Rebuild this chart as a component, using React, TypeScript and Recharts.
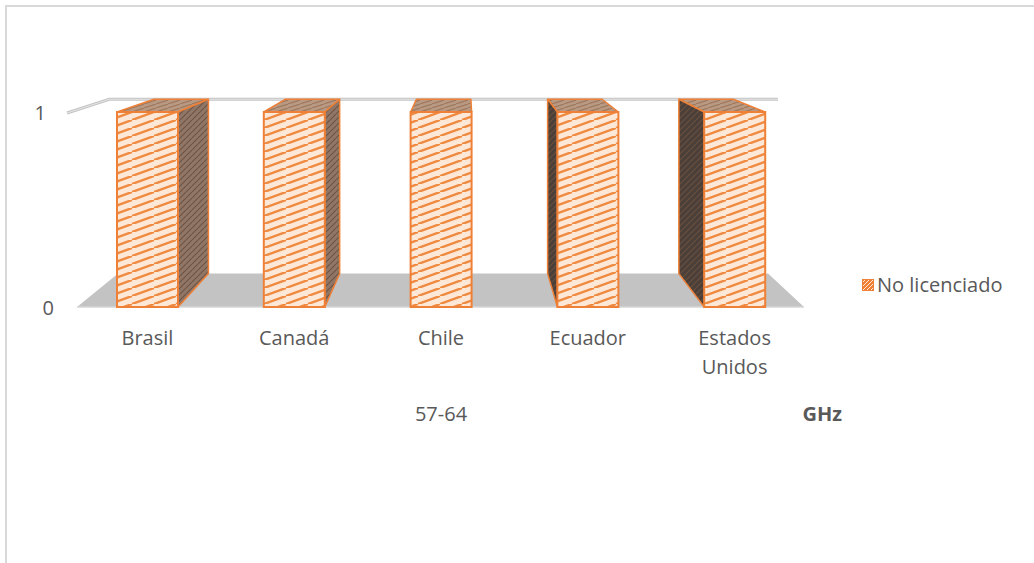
import React from "react";
import { Bar, BarChart, Label, Legend, ReferenceArea, XAxis, YAxis } from "recharts";

// values
const countries = ["Brasil", "Canadá", "Chile", "Ecuador", "Estados Unidos"];
const noLicenciado = [1, 1, 1, 1, 1];
const yTicks = [0, 1];
const seriesName = "No licenciado";
const xTitle = "57-64";
const depthTitle = "GHz";

const data = countries.map((country, i) => ({ country, value: noLicenciado[i] }));

const TEXT = "#595959";
const ORANGE = "#ee8037";
const FONT = 20;

// fake perspective used for the 3D look (vanishing point + depth ratio)
const VX = 465;
const VY = -8;
const DEPTH = 0.894;

type Pt = [number, number];
const proj = (px: number, py: number): Pt => [VX + DEPTH * (px - VX), VY + DEPTH * (py - VY)];
const pts = (arr: Pt[]) => arr.map((p) => p.join(",")).join(" ");

function Bar3D(props: any) {
  const { x, y, width: w, height: h } = props;
  if (w == null || h == null) return null;
  const A: Pt = [x, y];
  const B: Pt = [x + w, y];
  const C: Pt = [x + w, y + h];
  const D: Pt = [x, y + h];
  const A2 = proj(...A);
  const B2 = proj(...B);
  const C2 = proj(...C);
  const D2 = proj(...D);
  return (
    <g>
      <polygon points={pts([A, B, B2, A2])} fill="url(#hatchTop)" stroke={ORANGE} strokeWidth={1.5} strokeLinejoin="round" />
      {x + w < VX && (
        <polygon points={pts([B, C, C2, B2])} fill="url(#hatchRight)" stroke={ORANGE} strokeWidth={1.5} strokeLinejoin="round" />
      )}
      {x > VX && (
        <polygon points={pts([A, D, D2, A2])} fill="url(#hatchLeft)" stroke={ORANGE} strokeWidth={1.5} strokeLinejoin="round" />
      )}
      <rect x={x} y={y} width={w} height={h} fill="url(#hatchFront)" stroke={ORANGE} strokeWidth={2} />
    </g>
  );
}

function Room(props: any) {
  const { x, y, width: w, height: h } = props;
  if (w == null || h == null) return null;
  const FL: Pt = [x + 3, y + h];
  const FR: Pt = [x + w - 4, y + h];
  const BL = proj(...FL);
  const BR = proj(...FR);
  const wallFront: Pt = [x - 7, y + 1];
  const wallBackL = proj(x - 7, y);
  const wallBackR = proj(x + w + 7, y);
  return (
    <g>
      <polygon points={pts([FL, FR, BR, BL])} fill="#c3c3c3" />
      <line x1={FL[0]} y1={FL[1]} x2={FR[0]} y2={FR[1]} stroke="#d6d6d6" strokeWidth={1.5} />
      <polyline points={pts([wallFront, wallBackL, wallBackR])} fill="none" stroke="#c4c4c4" strokeWidth={3} />
      <polyline points={pts([wallFront, wallBackL, wallBackR])} fill="none" stroke="#e6e6e6" strokeWidth={1} />
    </g>
  );
}

function YTick(props: any) {
  const { x, y, payload } = props;
  // the wall leans a bit, so the 0 sits further right than the 1
  const shift = (1 - payload.value) * 8;
  return (
    <text x={x - 20 + shift} y={y} dy={8} textAnchor="end" fill={TEXT} fontSize={FONT}>
      {payload.value}
    </text>
  );
}

function XTick(props: any) {
  const { x, y, payload } = props;
  const lines: string[] = payload.value.length > 10 ? payload.value.split(" ") : [payload.value];
  return (
    <text x={x} y={y} textAnchor="middle" fill={TEXT} fontSize={FONT}>
      {lines.map((l, i) => (
        <tspan key={i} x={x} dy={i === 0 ? 30 : 29}>
          {l}
        </tspan>
      ))}
    </text>
  );
}

function LegendBox() {
  return (
    <div style={{ display: "flex", alignItems: "center", fontSize: FONT, color: TEXT, whiteSpace: "nowrap" }}>
      <svg width={12} height={12} style={{ marginRight: 3 }}>
        <rect x={0.5} y={0.5} width={11} height={11} fill="url(#hatchLegend)" stroke={ORANGE} strokeWidth={1} />
      </svg>
      <span>{seriesName}</span>
    </div>
  );
}

export default function App() {
  return (
    <div
      style={{
        position: "absolute",
        left: 0,
        top: 0,
        width: 1034,
        height: 563,
        overflow: "hidden",
        background: "#fff",
        fontFamily: "'Open Sans', sans-serif",
      }}
    >
      <div
        style={{
          position: "absolute",
          left: 5,
          top: 5,
          width: 1100,
          height: 600,
          borderLeft: "2px solid #d9d9d9",
          borderTop: "2px solid #d9d9d9",
        }}
      />
      <BarChart
        width={1034}
        height={563}
        data={data}
        margin={{ top: 112, right: 226, bottom: 131, left: 0 }}
        barSize={61}
      >
        <defs>
          <pattern id="hatchFront" width="22" height="8" patternUnits="userSpaceOnUse">
            <rect width="22" height="8" fill="#fde8d8" />
            <path d="M-22 8 L0 0 M0 8 L22 0 M22 8 L44 0" stroke="#ef8a40" strokeWidth="2.4" />
          </pattern>
          <pattern id="hatchTop" width="12" height="4" patternUnits="userSpaceOnUse">
            <rect width="12" height="4" fill="#b89a84" />
            <path d="M-12 4 L0 0 M0 4 L12 0 M12 4 L24 0" stroke="#a0785c" strokeWidth="1.2" />
          </pattern>
          <pattern id="hatchRight" width="6" height="6" patternUnits="userSpaceOnUse">
            <rect width="6" height="6" fill="#8f7666" />
            <path d="M-6 6 L0 0 M0 6 L6 0 M6 6 L12 0" stroke="#6f5444" strokeWidth="1.2" />
          </pattern>
          <pattern id="hatchLeft" width="6" height="6" patternUnits="userSpaceOnUse">
            <rect width="6" height="6" fill="#4a3f39" />
            <path d="M-6 6 L0 0 M0 6 L6 0 M6 6 L12 0" stroke="#6a4e3c" strokeWidth="1.2" />
          </pattern>
          <pattern id="hatchLegend" width="4" height="4" patternUnits="userSpaceOnUse">
            <rect width="4" height="4" fill={ORANGE} />
            <path d="M-1 1 L1 -1 M0 4 L4 0 M3 5 L5 3" stroke="#fde8d8" strokeWidth="1" />
          </pattern>
        </defs>
        <ReferenceArea y1={0} y2={1} shape={Room} fill="none" stroke="none" />
        <XAxis
          dataKey="country"
          height={125}
          axisLine={false}
          tickLine={false}
          interval={0}
          tick={XTick}
        >
          <Label value={xTitle} position="insideBottom" offset={11} fill={TEXT} fontSize={FONT} />
          <Label
            value={depthTitle}
            position="insideBottomRight"
            offset={11}
            dx={45}
            fill={TEXT}
            fontSize={FONT}
            fontWeight="bold"
          />
        </XAxis>
        <YAxis
          width={74}
          domain={[0, 1]}
          ticks={yTicks}
          axisLine={false}
          tickLine={false}
          tick={YTick}
        />
        <Legend
          layout="vertical"
          align="center"
          verticalAlign="middle"
          wrapperStyle={{ left: 862, top: 271, width: 172 }}
          content={() => <LegendBox />}
        />
        <Bar dataKey="value" name={seriesName} shape={Bar3D} isAnimationActive={false} />
      </BarChart>
    </div>
  );
}
